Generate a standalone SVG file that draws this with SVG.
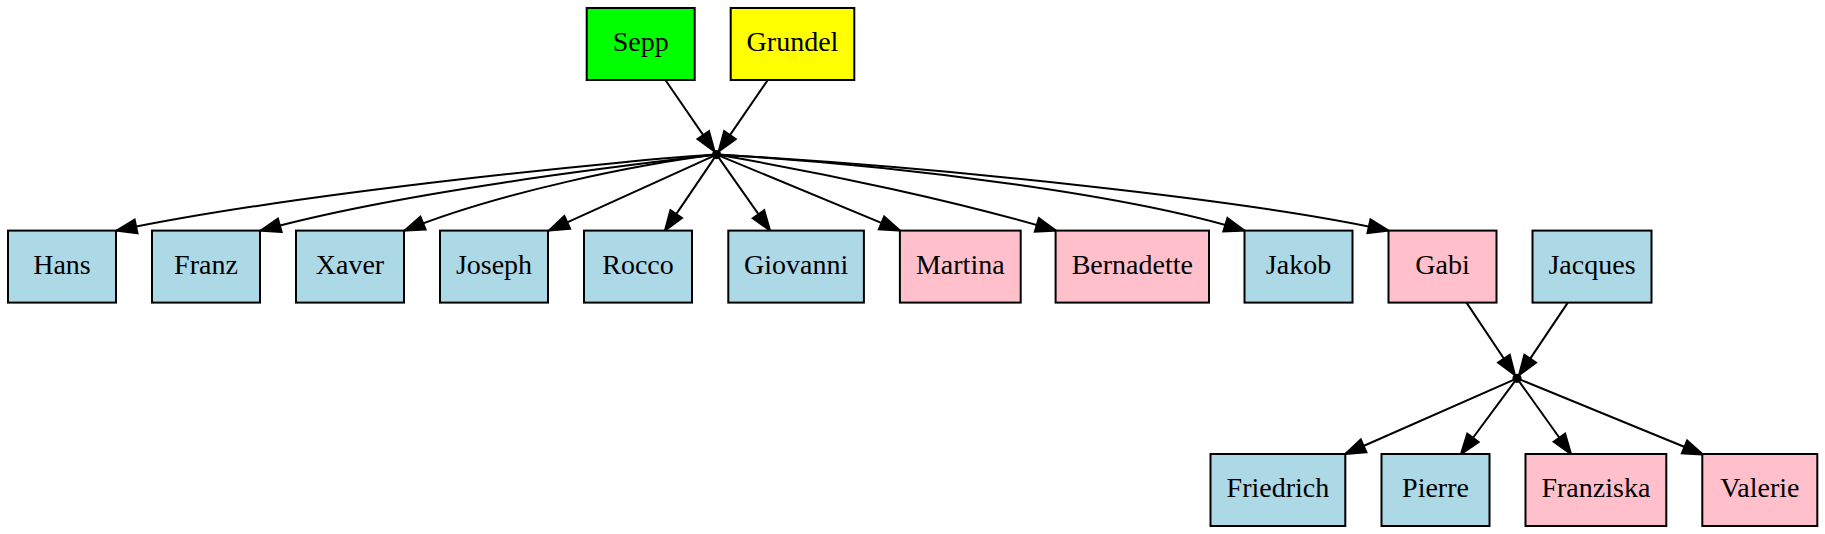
<svg xmlns="http://www.w3.org/2000/svg" width="1825" height="534" viewBox="0 0 1825 534">
<style>
.n rect{stroke:#000;stroke-width:2}
.b{fill:#add8e6}.p{fill:#ffc0cb}
text{font-family:"Liberation Serif","Times New Roman",serif;font-size:28px;text-anchor:middle;fill:#000}
.e path{fill:none;stroke:#000;stroke-width:2;marker-end:url(#arr)}
.pt{fill:#000;stroke:#000;stroke-width:2}
</style>
<defs>
<marker id="arr" viewBox="0 0 20 14" markerWidth="20" markerHeight="14" refX="20" refY="7" orient="auto" markerUnits="userSpaceOnUse" overflow="visible">
<path d="M0,0 L20,7 L0,14 Z" fill="#000" stroke="#000" stroke-width="2" stroke-linejoin="miter"/>
</marker>
</defs>
<rect width="1825" height="534" fill="#fff"/>
<g id="edges" class="e">
<path d="M665.4,80 L714.6,151.6"/>
<path d="M767.8,80 L718.6,151.6"/>
<path d="M716.6,154.6 C640,159 300,192 116.5,230.6"/>
<path d="M716.6,154.6 C620,166 400,192 260.5,230.6"/>
<path d="M716.6,154.6 C640,164 500,192 404.5,230.6"/>
<path d="M716.6,154.6 L549,230.6"/>
<path d="M716.6,154.6 L665,230.6"/>
<path d="M716.6,154.6 L770,230.6"/>
<path d="M716.6,154.6 L900,230.6"/>
<path d="M716.6,154.6 C830,174 960,202 1056,230.6"/>
<path d="M716.6,154.6 C900,165 1130,195 1244.5,230.6"/>
<path d="M716.6,154.6 C950,168 1250,200 1388.5,230.6"/>
<path d="M1466.5,302.6 L1515,375.3"/>
<path d="M1567.8,302.6 L1519,375.3"/>
<path d="M1517,378.3 L1345.3,454"/>
<path d="M1517,378.3 L1461,454"/>
<path d="M1517,378.3 L1571,454"/>
<path d="M1517,378.3 L1703,454.5"/>
</g>
<g id="j1"><circle class="pt" cx="716.6" cy="154.6" r="3.6"/></g>
<g id="j2"><circle class="pt" cx="1517" cy="378.3" r="3.6"/></g>
<g id="sepp" class="n"><rect x="586.7" y="8" width="108" height="72" fill="#00ff00"/><text x="640.7" y="51.4">Sepp</text></g>
<g id="grundel" class="n"><rect x="730.7" y="8" width="123.6" height="72" fill="#ffff00"/><text x="792.5" y="51.4">Grundel</text></g>
<g id="hans" class="n"><rect class="b" x="8" y="230.6" width="108" height="72"/><text x="62" y="274">Hans</text></g>
<g id="franz" class="n"><rect class="b" x="152" y="230.6" width="108" height="72"/><text x="206" y="274">Franz</text></g>
<g id="xaver" class="n"><rect class="b" x="296" y="230.6" width="108" height="72"/><text x="350" y="274">Xaver</text></g>
<g id="joseph" class="n"><rect class="b" x="440" y="230.6" width="108" height="72"/><text x="494" y="274">Joseph</text></g>
<g id="rocco" class="n"><rect class="b" x="584" y="230.6" width="108" height="72"/><text x="638" y="274">Rocco</text></g>
<g id="giovanni" class="n"><rect class="b" x="728.3" y="230.6" width="135.6" height="72"/><text x="796.1" y="274">Giovanni</text></g>
<g id="martina" class="n"><rect class="p" x="899.9" y="230.6" width="120.8" height="72"/><text x="960.3" y="274">Martina</text></g>
<g id="bernadette" class="n"><rect class="p" x="1055.6" y="230.6" width="153.4" height="72"/><text x="1132.3" y="274">Bernadette</text></g>
<g id="jakob" class="n"><rect class="b" x="1244.5" y="230.6" width="108" height="72"/><text x="1298.5" y="274">Jakob</text></g>
<g id="gabi" class="n"><rect class="p" x="1388.5" y="230.6" width="108" height="72"/><text x="1442.5" y="274">Gabi</text></g>
<g id="jacques" class="n"><rect class="b" x="1532.5" y="230.6" width="119" height="72"/><text x="1592" y="274">Jacques</text></g>
<g id="friedrich" class="n"><rect class="b" x="1210.5" y="454" width="134.8" height="72"/><text x="1277.9" y="497.4">Friedrich</text></g>
<g id="pierre" class="n"><rect class="b" x="1381.5" y="454" width="108" height="72"/><text x="1435.5" y="497.4">Pierre</text></g>
<g id="franziska" class="n"><rect class="p" x="1525.5" y="454" width="140.8" height="72"/><text x="1595.9" y="497.4">Franziska</text></g>
<g id="valerie" class="n"><rect class="p" x="1702.3" y="454" width="115" height="72"/><text x="1759.8" y="497.4">Valerie</text></g>
</svg>
